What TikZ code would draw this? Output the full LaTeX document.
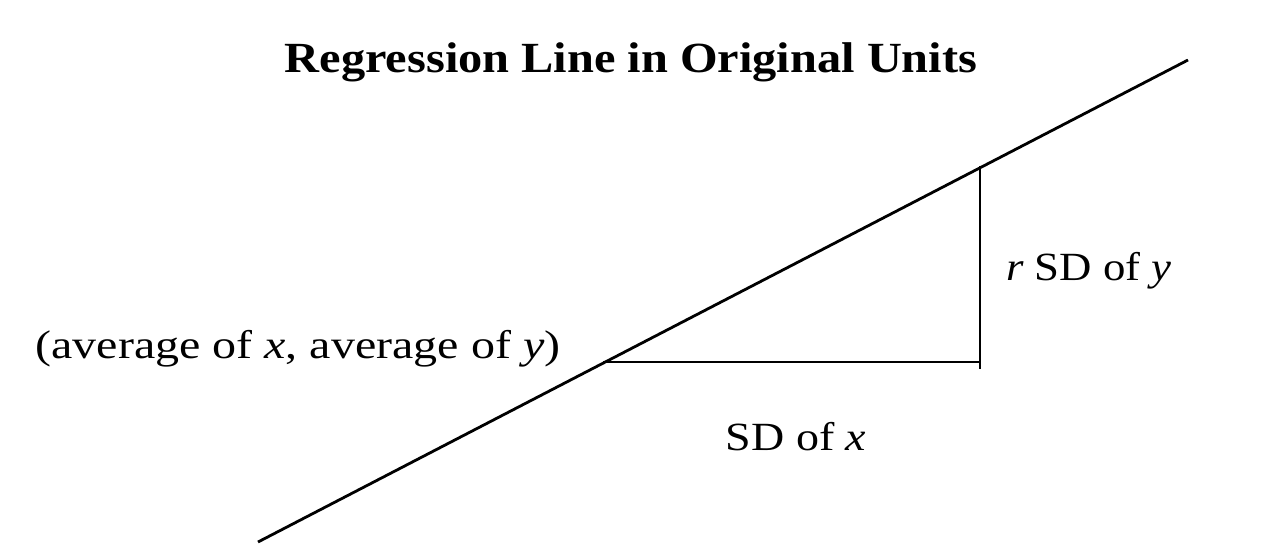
\documentclass[tikz,border=0pt]{standalone}
\usepackage{fontspec}
\setmainfont{Liberation Serif}
\begin{document}
\begin{tikzpicture}[x=1pt,y=-1pt,
  ln/.style={line width=2.8pt, line cap=butt},
  lbl/.style={inner sep=0pt, font=\fontsize{40}{44}\selectfont}]
\useasboundingbox (0,0) rectangle (1268,554);
\coordinate (lo) at (258,542);
\coordinate (hi) at (1188,60);
\coordinate (avg) at (603,362);
\coordinate (corner) at (980,362);
\coordinate (top) at (980,166);
\coordinate (below) at (980,369);
\draw[ln] (lo) -- (hi);
\draw[ln] (avg) -- (corner);
\draw[ln] (top) -- (below);
\node[inner sep=0pt, font=\bfseries\fontsize{43}{46}\selectfont] (title) at (631,62) {\scalebox{1.125}[1]{Regression Line in Original Units}};
\node[lbl] (pt) at (298,349) {\scalebox{1.2}[1]{(average of \textit{x}, average of \textit{y})}};
\node[lbl] (rsd) at (1089,271) {\scalebox{1.12}[1]{\textit{r} SD of \textit{y}}};
\node[lbl] (sdx) at (796,437) {\scalebox{1.15}[1]{SD of \textit{x}}};
\end{tikzpicture}
\end{document}
